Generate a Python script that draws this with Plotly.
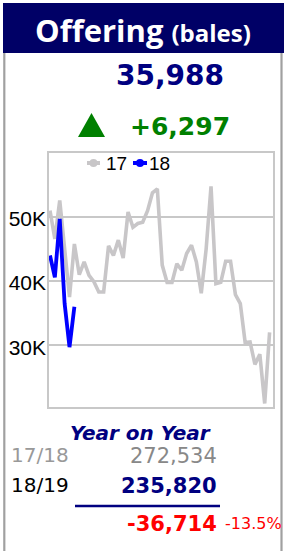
import plotly.graph_objects as go

# ---------------- data ----------------
title_main = "Offering"
title_unit = "(bales)"
latest_value = "35,988"
change_value = "+6,297"
yoy_title = "Year on Year"
season_labels = ["17/18", "18/19"]
season_totals = ["272,534", "235,820"]
yoy_diff = "-36,714"
yoy_pct = "-13.5%"

series_names = ["17", "18"]
offer_17 = [51000, 46600, 52600, 45000, 37500, 45800, 41000, 43000, 40900, 39900,
            38300, 38300, 45500, 44000, 46400, 43600, 50800, 48400, 49000, 49200,
            51000, 53800, 54400, 42500, 39800, 39800, 42700, 41700, 44300, 45600,
            43000, 38100, 45000, 54800, 39600, 39800, 43100, 43100, 37900, 36500,
            30400, 30500, 27000, 28600, 20900, 32000]
offer_18 = [44000, 40600, 49700, 36500, 29691, 35988]
sale_17 = list(range(len(offer_17)))
sale_18 = list(range(len(offer_18)))

y_tickvals = [30000, 40000, 50000]
y_ticktext = ["30K", "40K", "50K"]

# ---------------- layout helpers ----------------
W_FIG, H_FIG = 284, 551
L, R, T, B = 49, 11, 153, 144
PW = W_FIG - L - R
PH = H_FIG - T - B


def px(x):
    return (x - L) / PW


def py(y):
    return (H_FIG - B - y) / PH


NAVY = "#000080"
GREEN = "#008000"
RED = "#ff0000"
GRID = "#c8c8c8"

fig = go.Figure()
fig.add_trace(go.Scatter(x=sale_17, y=offer_17, mode="lines", name=series_names[0],
                         line=dict(color="#c8c6c8", width=3.6), hoverinfo="skip"))
fig.add_trace(go.Scatter(x=sale_18, y=offer_18, mode="lines", name=series_names[1],
                         line=dict(color="#0000ff", width=3.8), hoverinfo="skip"))

shapes = []
# header band
shapes.append(dict(type="rect", xref="paper", yref="paper", x0=px(3), x1=px(284),
                   y0=py(53), y1=py(3), fillcolor="#000066", line=dict(width=0), layer="above"))
# card borders
for xb in (4.3, 281.5):
    shapes.append(dict(type="line", xref="paper", yref="paper", x0=px(xb), x1=px(xb),
                       y0=py(53), y1=py(551), line=dict(color="#a0a0a0", width=2.2)))
# triangle
shapes.append(dict(type="path", xref="paper", yref="paper",
                   path=f"M {px(78)} {py(137)} L {px(105)} {py(137)} L {px(91.5)} {py(113)} Z",
                   fillcolor=GREEN, line=dict(width=0)))
# underline
shapes.append(dict(type="line", xref="paper", yref="paper", x0=px(75), x1=px(220),
                   y0=py(506), y1=py(506), line=dict(color=NAVY, width=2.5)))
# legend symbols
for (x0, x1, col) in ((87, 100, "#c8c6c8"), (133, 147, "#0000ff")):
    shapes.append(dict(type="line", xref="paper", yref="paper", x0=px(x0), x1=px(x1),
                       y0=py(163), y1=py(163), line=dict(color=col, width=4)))
    cx = (x0 + x1) / 2
    shapes.append(dict(type="circle", xref="paper", yref="paper", x0=px(cx - 4), x1=px(cx + 4),
                       y0=py(167), y1=py(159), fillcolor=col, line=dict(width=0)))

ann = []


def add_text(text, x, y, size, color, family="DejaVu Sans", xanchor="center", bold=False, italic=False):
    t = text
    if bold:
        t = f"<b>{t}</b>"
    if italic:
        t = f"<i>{t}</i>"
    ann.append(dict(text=t, x=px(x), y=py(y), xref="paper", yref="paper", showarrow=False,
                    xanchor=xanchor, yanchor="middle", font=dict(size=size, color=color, family=family)))


add_text(f"{title_main} <span style='font-size:24px'>{title_unit}</span>", 142.5, 30, 31, "white",
         family="Open Sans", bold=True)
add_text(latest_value, 170, 75, 28, NAVY, bold=True)
add_text(change_value, 180, 126, 25, GREEN, bold=True)
add_text(series_names[0], 104, 163, 19, "black", family="Liberation Sans", xanchor="left")
add_text(series_names[1], 147, 163, 19, "black", family="Liberation Sans", xanchor="left")
add_text(yoy_title, 140.5, 433, 20, NAVY, bold=True, italic=True)
add_text(season_labels[0], 9, 455, 20, "#999999", xanchor="left")
add_text(season_totals[0], 219, 456, 21, "#888888", xanchor="right")
add_text(season_labels[1], 9, 485, 20, "black", xanchor="left")
add_text(season_totals[1], 219, 486, 21, NAVY, xanchor="right", bold=True)
add_text(yoy_diff, 219, 524, 21, RED, xanchor="right", bold=True)
add_text(yoy_pct, 223, 523, 16, RED, xanchor="left")

fig.update_layout(
    width=W_FIG, height=H_FIG,
    margin=dict(l=L, r=R, t=T, b=B, pad=0, autoexpand=False),
    paper_bgcolor="white", plot_bgcolor="white",
    showlegend=False,
    shapes=shapes, annotations=ann,
    xaxis=dict(range=[-0.2, 45.7], showgrid=False, zeroline=False, showticklabels=False,
               ticks="", showline=True, linecolor=GRID, linewidth=1.5, mirror=True, automargin=False),
    yaxis=dict(range=[20350, 60000], tickvals=y_tickvals, ticktext=y_ticktext,
               showgrid=True, gridcolor=GRID, gridwidth=1.5, zeroline=False,
               showline=True, linecolor=GRID, linewidth=1.5, mirror=True, ticks="", automargin=False,
               tickfont=dict(family="Liberation Sans", size=21, color="black"),
               ticklabelstandoff=-3, ticklabelshift=2),
)

fig.write_html("out.html", config={"displayModeBar": False},
               post_script="document.body.style.margin='0';document.body.style.overflow='hidden';")
